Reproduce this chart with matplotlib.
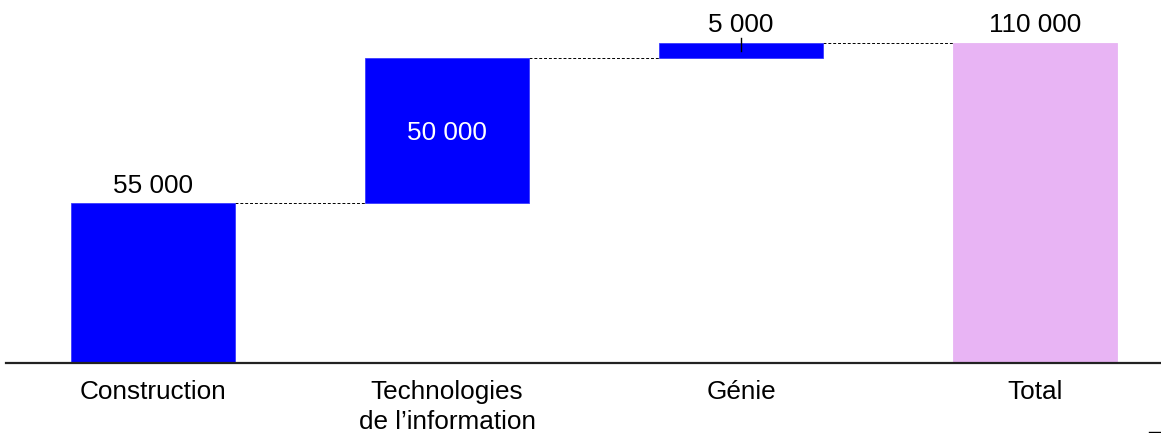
import numpy as np
import matplotlib
matplotlib.use("Agg")
from matplotlib import pyplot as plt

plt.rcParams['font.family'] = ['Liberation Sans', 'DejaVu Sans']

categories = ['Construction', 'Technologies\nde l\u2019information', 'Génie', 'Total']
steps = [55000, 50000, 5000]
total = sum(steps)
labels = ['55 000', '50 000', '5 000', '110 000']

blue = '#0000FF'
pink = '#E8B4F4'
fs = 18.8

fig = plt.figure(figsize=(11.61, 4.33), dpi=100)
ax = fig.add_axes([6 / 1161, 70 / 433, 1155 / 1161, 363 / 433])

x = np.arange(len(categories))
bottoms = [0] + list(np.cumsum(steps)[:-1])
heights = steps + [total]
bottoms = bottoms + [0]
colors = [blue] * len(steps) + [pink]
width = 0.56

ax.bar(x, heights, width, bottom=bottoms, color=colors,
       edgecolor=['#3a3aff' for _ in steps] + [pink], linewidth=0.6, zorder=2)

# connectors between bars
tops = [b + h for b, h in zip(bottoms, heights)]
for i in range(len(categories) - 1):
    ax.plot([x[i] + width / 2, x[i + 1] - width / 2], [tops[i], tops[i]],
            color='black', lw=0.7, ls=(0, (3, 2)), zorder=1)

# value labels
ax.annotate(labels[0], (x[0], tops[0]), xytext=(0, 7.2), textcoords='offset points',
            ha='center', va='baseline', fontsize=fs)
ax.text(x[1], bottoms[1] + heights[1] / 2, labels[1], ha='center', va='center_baseline',
        fontsize=fs, color='white')
ax.plot([x[2], x[2]], [tops[2] - 2800, tops[2] + 1700], color='black', lw=1, zorder=3)
ax.annotate(labels[2], (x[2], tops[2]), xytext=(0, 8), textcoords='offset points',
            ha='center', va='baseline', fontsize=fs)
ax.annotate(labels[3], (x[3], tops[3]), xytext=(0, 8), textcoords='offset points',
            ha='center', va='baseline', fontsize=fs)

ax.set_xlim(-0.5, -0.5 + 1155 / 294)
ax.set_ylim(0, 110000 * 363 / 320)
ax.set_xticks(x)
ax.set_xticklabels(categories, fontsize=fs, linespacing=1.3)
ax.tick_params(axis='x', length=0, pad=12.5)
ax.set_yticks([])
for s in ['top', 'right', 'left']:
    ax.spines[s].set_visible(False)
ax.spines['bottom'].set_linewidth(1.6)
ax.spines['bottom'].set_color('#222222')

fig.add_artist(plt.Line2D([1149 / 1161, 1160 / 1161], [1.5 / 433, 1.5 / 433],
                          color='black', lw=1))

fig.savefig('out.png', dpi=100)
